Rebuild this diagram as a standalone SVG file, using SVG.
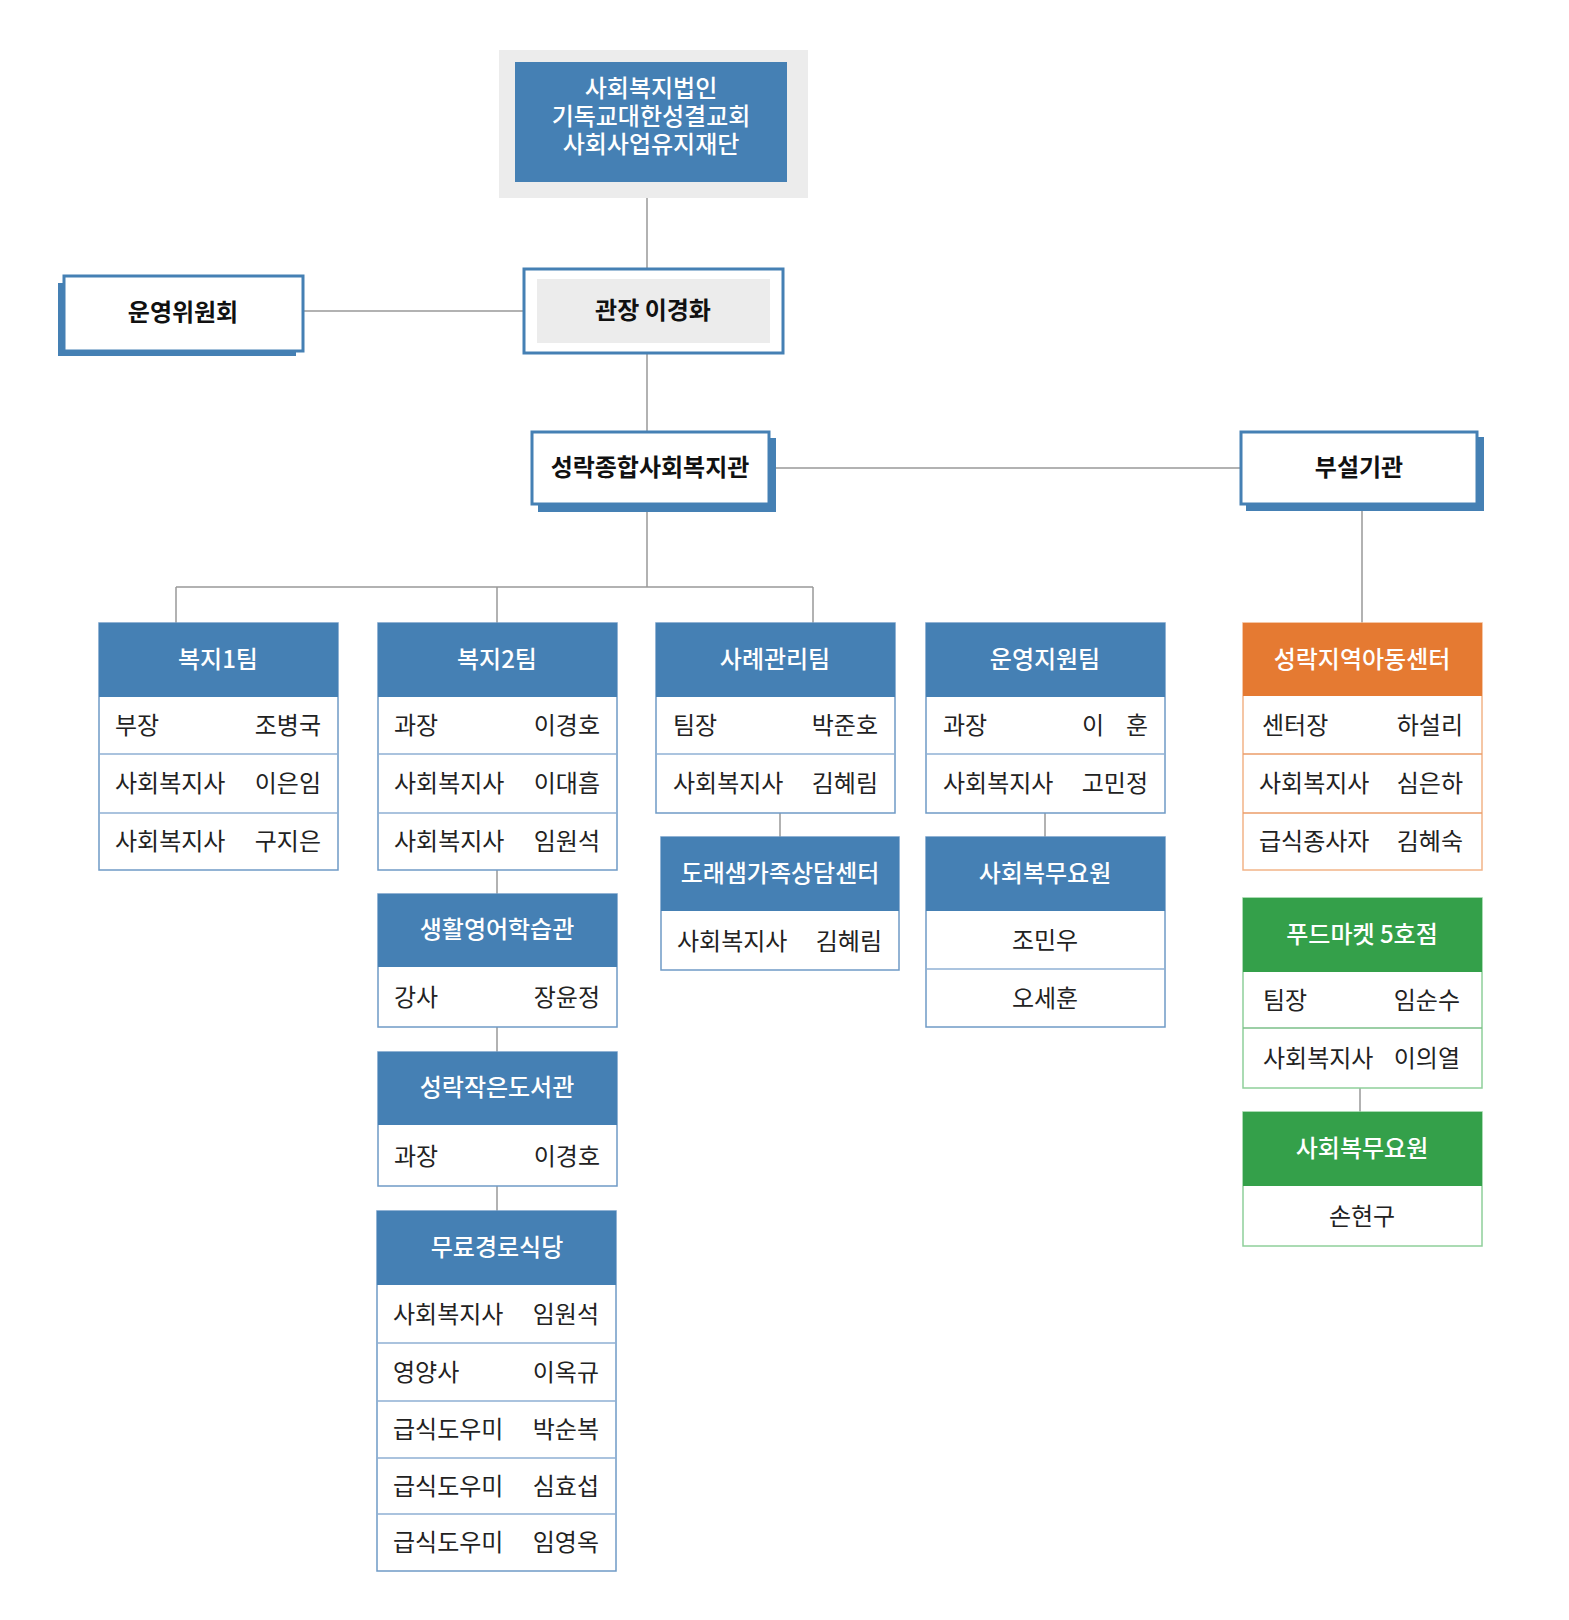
<svg xmlns="http://www.w3.org/2000/svg" width="1569" height="1620" viewBox="0 0 1569 1620">
<style>
text{font-family:"Noto Sans CJK KR","Noto Sans",sans-serif;font-size:24px;fill:#222}
.h{fill:#fff;font-weight:500;text-anchor:middle;font-size:24px}
.t{font-weight:bold;text-anchor:middle;fill:#111;font-size:24px}
.c{text-anchor:middle}
.e{text-anchor:end}
.bx{fill:#fff;stroke:#6f9ac6;stroke-width:1.5}
.hb{fill:#4580b4}
.sep{stroke:#8fb0d4;stroke-width:1.5}
.bxo{fill:#fff;stroke:#f2b488;stroke-width:1.5}
.ho{fill:#e57a32}
.sepo{stroke:#ec9d6a;stroke-width:1.5}
.bxg{fill:#fff;stroke:#8fcf9a;stroke-width:1.5}
.hg{fill:#34a04a}
.sepg{stroke:#7bbf88;stroke-width:1.5}
.ln{stroke:#999;stroke-width:1.5;fill:none}
.tb{fill:#fff;stroke:#4580b4;stroke-width:3}
.sh{fill:#4580b4}
</style>
<g id="connectors">
<path class="ln" d="M647 198V268M647 354V431M647 512V587M176 587H813M176 587V623M497 587V623M813 587V623"/>
<path class="ln" d="M304 311H523M776 468H1240M1362 511V623"/>
<path class="ln" d="M497 870V894M497 1027V1052M497 1186V1211M780 813V837M1045 813V837M1360 1088V1112"/>
</g>
<g id="foundation">
<rect x="499" y="50" width="309" height="148" fill="#ececec"/>
<rect x="515" y="62" width="272" height="120" class="hb"/>
<text class="h" x="651" y="97" font-size="24">사회복지법인</text>
<text class="h" x="651" y="125" font-size="24">기독교대한성결교회</text>
<text class="h" x="651" y="153" font-size="24">사회사업유지재단</text>
</g>
<g id="director">
<rect class="tb" x="524" y="269" width="259" height="84"/>
<rect x="537" y="279" width="233" height="64" fill="#ececec"/>
<text class="t" x="653" y="319">관장 이경화</text>
</g>
<g id="committee">
<rect class="sh" x="58" y="283" width="238" height="73"/>
<rect class="tb" x="64" y="276" width="239" height="75"/>
<text class="t" x="183" y="321">운영위원회</text>
</g>
<g id="center">
<rect class="sh" x="538" y="438" width="238" height="74"/>
<rect class="tb" x="532" y="432" width="237" height="72"/>
<text class="t" x="650" y="476">성락종합사회복지관</text>
</g>
<g id="affiliates">
<rect class="sh" x="1246" y="437" width="238" height="74"/>
<rect class="tb" x="1241" y="432" width="236" height="72"/>
<text class="t" x="1359" y="476">부설기관</text>
</g>
<g id="team1">
<rect class="bx" x="99" y="623" width="239" height="247"/>
<rect class="hb" x="99" y="623" width="239" height="74"/>
<path class="sep" d="M99 754H338M99 813H338"/>
<text class="h" x="218" y="668">복지1팀</text>
<text x="115" y="734">부장</text><text class="e" x="321" y="734">조병국</text>
<text x="115" y="792">사회복지사</text><text class="e" x="321" y="792">이은임</text>
<text x="115" y="850">사회복지사</text><text class="e" x="321" y="850">구지은</text>
</g>
<g id="team2">
<rect class="bx" x="378" y="623" width="239" height="247"/>
<rect class="hb" x="378" y="623" width="239" height="74"/>
<path class="sep" d="M378 754H617M378 813H617"/>
<text class="h" x="497" y="668">복지2팀</text>
<text x="394" y="734">과장</text><text class="e" x="600" y="734">이경호</text>
<text x="394" y="792">사회복지사</text><text class="e" x="600" y="792">이대흠</text>
<text x="394" y="850">사회복지사</text><text class="e" x="600" y="850">임원석</text>
</g>
<g id="english">
<rect class="bx" x="378" y="894" width="239" height="133"/>
<rect class="hb" x="378" y="894" width="239" height="73"/>
<text class="h" x="497" y="938">생활영어학습관</text>
<text x="394" y="1006">강사</text><text class="e" x="600" y="1006">장윤정</text>
</g>
<g id="library">
<rect class="bx" x="378" y="1052" width="239" height="134"/>
<rect class="hb" x="378" y="1052" width="239" height="73"/>
<text class="h" x="497" y="1096">성락작은도서관</text>
<text x="394" y="1165">과장</text><text class="e" x="600" y="1165">이경호</text>
</g>
<g id="diner">
<rect class="bx" x="377" y="1211" width="239" height="360"/>
<rect class="hb" x="377" y="1211" width="239" height="74"/>
<path class="sep" d="M377 1343H616M377 1401H616M377 1458H616M377 1514H616"/>
<text class="h" x="497" y="1256">무료경로식당</text>
<text x="393" y="1323">사회복지사</text><text class="e" x="599" y="1323">임원석</text>
<text x="393" y="1381">영양사</text><text class="e" x="599" y="1381">이옥규</text>
<text x="393" y="1438">급식도우미</text><text class="e" x="599" y="1438">박순복</text>
<text x="393" y="1495">급식도우미</text><text class="e" x="599" y="1495">심효섭</text>
<text x="393" y="1551">급식도우미</text><text class="e" x="599" y="1551">임영옥</text>
</g>
<g id="case">
<rect class="bx" x="656" y="623" width="239" height="190"/>
<rect class="hb" x="656" y="623" width="239" height="74"/>
<path class="sep" d="M656 754H895"/>
<text class="h" x="775" y="668">사례관리팀</text>
<text x="673" y="734">팀장</text><text class="e" x="878" y="734">박준호</text>
<text x="673" y="792">사회복지사</text><text class="e" x="878" y="792">김혜림</text>
</g>
<g id="family">
<rect class="bx" x="661" y="837" width="238" height="133"/>
<rect class="hb" x="661" y="837" width="238" height="74"/>
<text class="h" x="780" y="882">도래샘가족상담센터</text>
<text x="677" y="950">사회복지사</text><text class="e" x="882" y="950">김혜림</text>
</g>
<g id="ops">
<rect class="bx" x="926" y="623" width="239" height="190"/>
<rect class="hb" x="926" y="623" width="239" height="74"/>
<path class="sep" d="M926 754H1165"/>
<text class="h" x="1045" y="668">운영지원팀</text>
<text x="943" y="734">과장</text><text x="1082" y="734">이</text><text class="e" x="1148" y="734">훈</text>
<text x="943" y="792">사회복지사</text><text class="e" x="1148" y="792">고민정</text>
</g>
<g id="service1">
<rect class="bx" x="926" y="837" width="239" height="190"/>
<rect class="hb" x="926" y="837" width="239" height="74"/>
<path class="sep" d="M926 969H1165"/>
<text class="h" x="1045" y="882">사회복무요원</text>
<text class="c" x="1045" y="949">조민우</text>
<text class="c" x="1045" y="1007">오세훈</text>
</g>
<g id="children">
<rect class="bxo" x="1243" y="623" width="239" height="247"/>
<rect class="ho" x="1243" y="623" width="239" height="73"/>
<path class="sepo" d="M1243 754H1482M1243 813H1482"/>
<text class="h" x="1362" y="668">성락지역아동센터</text>
<text x="1262" y="734">센터장</text><text class="e" x="1463" y="734">하설리</text>
<text x="1259" y="792">사회복지사</text><text class="e" x="1463" y="792">심은하</text>
<text x="1259" y="850">급식종사자</text><text class="e" x="1463" y="850">김혜숙</text>
</g>
<g id="foodmarket">
<rect class="bxg" x="1243" y="898" width="239" height="190"/>
<rect class="hg" x="1243" y="898" width="239" height="74"/>
<path class="sepg" d="M1243 1028H1482"/>
<text class="h" x="1362" y="943">푸드마켓 5호점</text>
<text x="1263" y="1009">팀장</text><text class="e" x="1460" y="1009">임순수</text>
<text x="1263" y="1067">사회복지사</text><text class="e" x="1460" y="1067">이의열</text>
</g>
<g id="service2">
<rect class="bxg" x="1243" y="1112" width="239" height="134"/>
<rect class="hg" x="1243" y="1112" width="239" height="74"/>
<text class="h" x="1362" y="1157">사회복무요원</text>
<text class="c" x="1362" y="1225">손현구</text>
</g>
</svg>
